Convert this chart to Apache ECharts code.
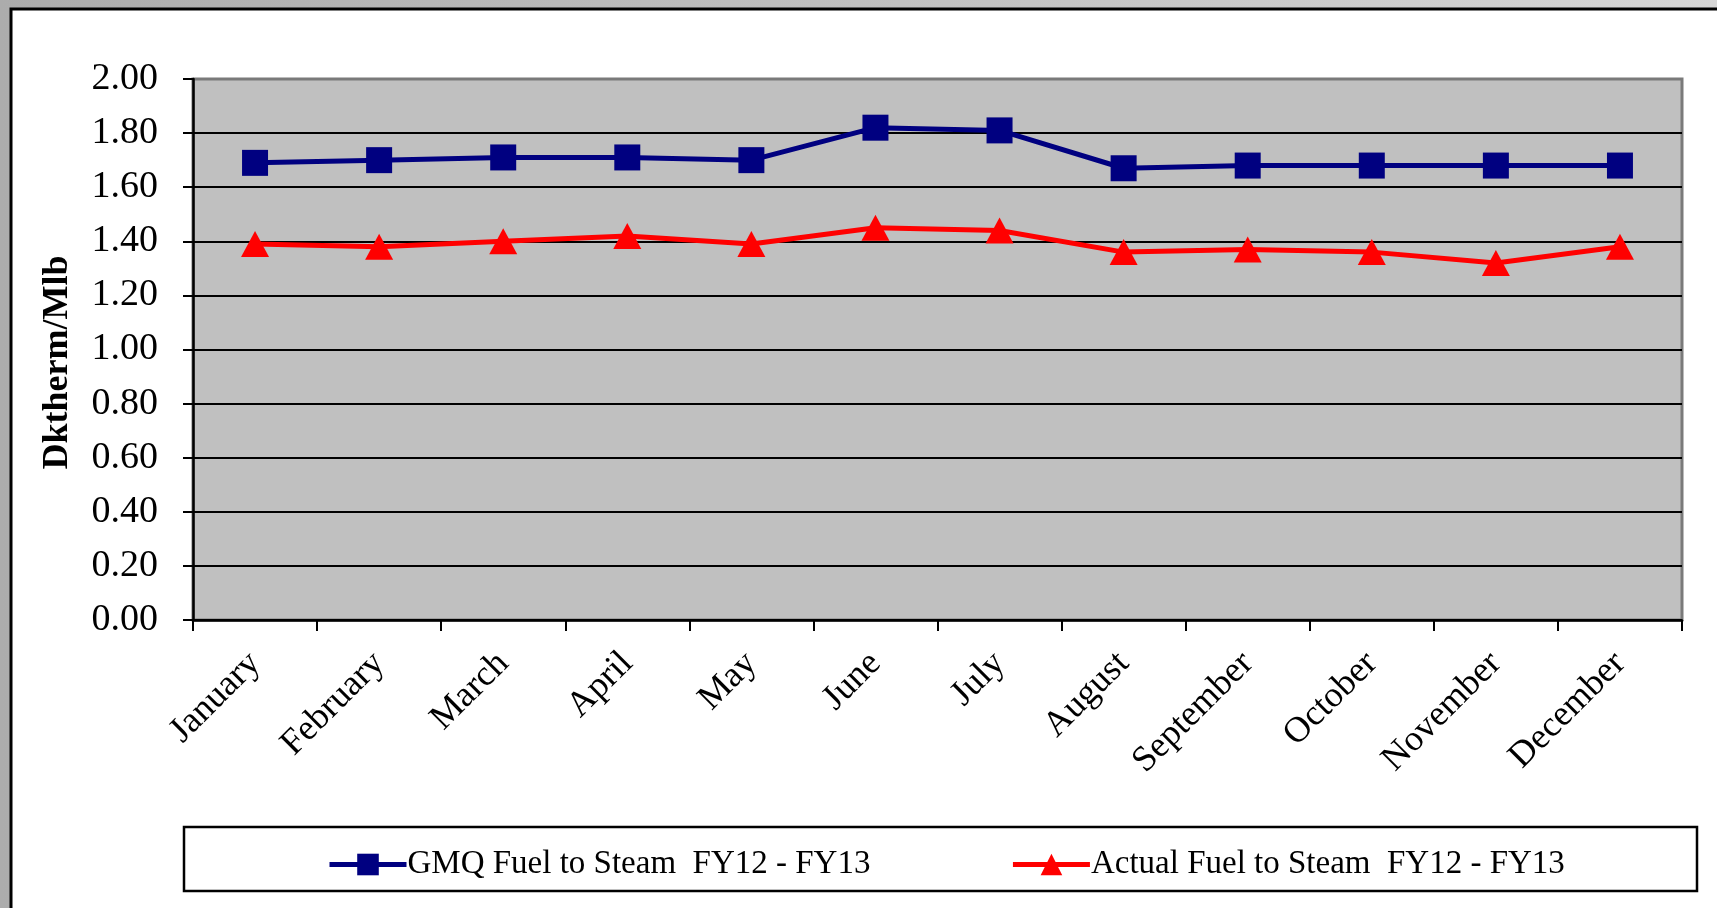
<!DOCTYPE html>
<html>
<head>
<meta charset="utf-8">
<script src="https://cdn.jsdelivr.net/npm/echarts@6/dist/echarts.min.js"></script>
<style>
  html, body { margin: 0; padding: 0; }
  body { background: linear-gradient(90deg, #acacac 0%, #c4c4c4 60%, #d6d6d6 100%); }
  #chart { width: 1717px; height: 908px; }
</style>
</head>
<body>
<div id="chart"></div>
<script>
  // data
  const months = ['January', 'February', 'March', 'April', 'May', 'June', 'July', 'August', 'September', 'October', 'November', 'December'];
  const gmqValues = [1.69, 1.70, 1.71, 1.71, 1.70, 1.82, 1.81, 1.67, 1.68, 1.68, 1.68, 1.68];
  const actualValues = [1.39, 1.38, 1.40, 1.42, 1.39, 1.45, 1.44, 1.36, 1.37, 1.36, 1.32, 1.38];
  const seriesNames = ['GMQ Fuel to Steam  FY12 - FY13', 'Actual Fuel to Steam  FY12 - FY13'];

  const font = 'Liberation Serif';
  // black gridlines, the top one is the plot's grey shadow edge
  const gridColors = ['#000', '#000', '#000', '#000', '#000', '#000', '#000', '#000', '#000', '#000', '#7a7a7a'];

  const chart = echarts.init(document.getElementById('chart'));
  const option = {
    animation: false,
    textStyle: { fontFamily: font },
    graphic: [
      {
        type: 'rect', z: -10, silent: true,
        shape: { x: 11, y: 9, width: 1740, height: 940 },
        style: { fill: '#fff', stroke: '#000', lineWidth: 3 }
      },
      {
        type: 'rect', z: -5, silent: true,
        shape: { x: 184, y: 827, width: 1513, height: 64 },
        style: { fill: '#fff', stroke: '#000', lineWidth: 2.5 }
      }
    ],
    grid: {
      left: 193, right: 35, top: 79, bottom: 288,
      show: true,
      backgroundColor: '#c0c0c0',
      borderColor: '#7a7a7a',
      borderWidth: 3
    },
    legend: {
      left: 322, top: 843,
      itemWidth: 77, itemHeight: 27,
      itemGap: 140,
      lineStyle: { width: 5 },
      textStyle: { fontFamily: font, fontSize: 33, color: '#000', padding: [0, 0, 0, -4] },
      data: seriesNames
    },
    xAxis: {
      type: 'category',
      data: months,
      boundaryGap: true,
      axisLine: { lineStyle: { color: '#000', width: 2.5 } },
      axisTick: { show: true, length: 11, lineStyle: { color: '#000', width: 2 } },
      axisLabel: { rotate: 45, margin: 38, fontFamily: font, fontSize: 36, color: '#000' }
    },
    yAxis: {
      type: 'value',
      min: 0, max: 2, interval: 0.2,
      name: 'Dktherm/Mlb',
      nameLocation: 'middle',
      nameGap: 117,
      nameTextStyle: { fontFamily: font, fontSize: 36, fontWeight: 'bold', color: '#000', padding: [0, 26, 0, 0] },
      axisLine: { show: true, lineStyle: { color: '#000', width: 2.5 } },
      axisTick: { show: true, length: 10, lineStyle: { color: '#000', width: 2 } },
      axisLabel: {
        margin: 35, fontFamily: font, fontSize: 38, color: '#000',
        formatter: v => v.toFixed(2)
      },
      splitLine: { show: true, lineStyle: { color: gridColors, width: 2 } }
    },
    series: [
      {
        name: seriesNames[0],
        type: 'line',
        data: gmqValues,
        symbol: 'rect',
        symbolSize: 26,
        lineStyle: { color: '#000080', width: 5 },
        itemStyle: { color: '#000080' }
      },
      {
        name: seriesNames[1],
        type: 'line',
        data: actualValues,
        symbol: 'triangle',
        symbolSize: [28, 26],
        lineStyle: { color: '#ff0000', width: 5 },
        itemStyle: { color: '#ff0000' }
      }
    ]
  };
  chart.setOption(option);
</script>
</body>
</html>
